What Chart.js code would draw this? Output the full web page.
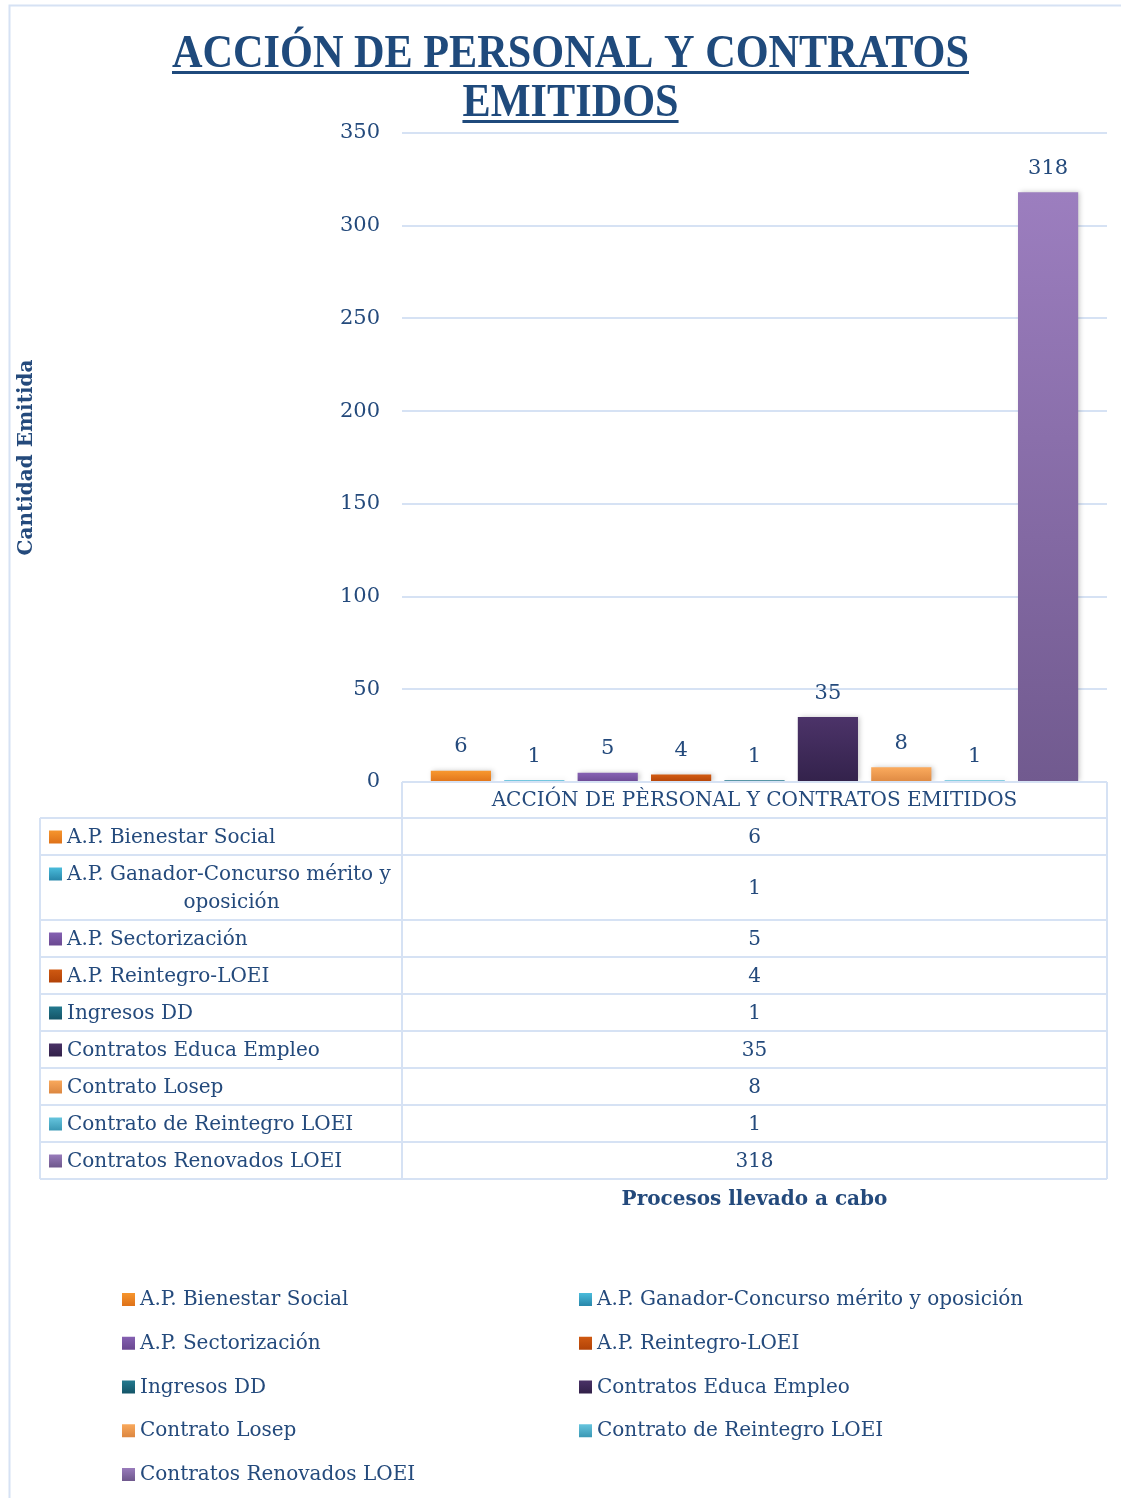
<!DOCTYPE html>
<html lang="es">
<head>
<meta charset="utf-8">
<title>Acción de personal y contratos emitidos</title>
<script src="https://cdn.jsdelivr.net/npm/chart.js@4.4.1/dist/chart.umd.min.js"></script>
<style>
  html, body { margin: 0; padding: 0; background: #fff; }
  canvas { display: block; }
</style>
</head>
<body>
<canvas id="grafico" width="1121" height="1498"></canvas>
<script>
/* ---- datos ---- */
const categorias = [
  'A.P. Bienestar Social',
  'A.P. Ganador-Concurso mérito y oposición',
  'A.P. Sectorización',
  'A.P. Reintegro-LOEI',
  'Ingresos DD',
  'Contratos Educa Empleo',
  'Contrato Losep',
  'Contrato de Reintegro LOEI',
  'Contratos Renovados LOEI'
];
const valores = [6, 1, 5, 4, 1, 35, 8, 1, 318];
const ticksY = [0, 50, 100, 150, 200, 250, 300, 350];
const serieNombre = 'ACCIÓN DE PÈRSONAL Y CONTRATOS EMITIDOS';
const tituloLineas = ['ACCIÓN DE PERSONAL Y CONTRATOS', 'EMITIDOS'];
const tituloEjeY = 'Cantidad Emitida';
const tituloEjeX = 'Procesos llevado a cabo';

// colores (arriba, abajo) de cada serie
const coloresArriba = ['#F8982F', '#4DC0DF', '#8762B4', '#D25B12', '#247C92', '#4C3369', '#FBAB5E', '#69C8E1', '#9C7EBF'];
const coloresAbajo  = ['#E0741A', '#2A8AAD', '#6C4A93', '#B44408', '#15576A', '#33224B', '#DE8942', '#3D9BB7', '#715A8F'];

/* ---- estilos ---- */
const AZUL = '#244A7C';
const BORDE = '#D6E2F4';
const FUENTE = '"DejaVu Serif", serif';
const TAM = 20;

function degradado(ctx, i, y0, y1) {
  const g = ctx.createLinearGradient(0, y0, 0, y1);
  g.addColorStop(0, coloresArriba[i]);
  g.addColorStop(1, coloresAbajo[i]);
  return g;
}

// fondo + marco exterior
const fondoPlugin = {
  id: 'fondo',
  beforeDraw(chart) {
    const ctx = chart.ctx;
    ctx.save();
    ctx.fillStyle = '#fff';
    ctx.fillRect(0, 0, chart.width, chart.height);
    ctx.strokeStyle = BORDE;
    ctx.lineWidth = 2;
    ctx.beginPath();
    ctx.moveTo(9.5, chart.height);
    ctx.lineTo(9.5, 5.5);
    ctx.lineTo(chart.width, 5.5);
    ctx.stroke();
    ctx.restore();
  }
};

// título subrayado
const tituloPlugin = {
  id: 'tituloSub',
  afterDraw(chart) {
    const ctx = chart.ctx;
    ctx.save();
    ctx.font = 'bold 47px "Liberation Serif", serif';
    ctx.fillStyle = '#1F4A7C';
    ctx.textAlign = 'center';
    ctx.textBaseline = 'alphabetic';
    const ancho0 = ctx.measureText(tituloLineas[0]).width;
    const sx = 797 / ancho0;
    const cx = 570.5;
    const bases = [67, 116];
    tituloLineas.forEach((t, k) => {
      const w = ctx.measureText(t).width * sx;
      ctx.save();
      ctx.translate(cx, bases[k]);
      ctx.scale(sx, 1);
      ctx.fillText(t, 0, 0);
      ctx.restore();
      ctx.fillRect(cx - w / 2, bases[k] + 4, w, 3);
    });
    ctx.restore();
  }
};

// sombra de las barras
const sombraPlugin = {
  id: 'sombra',
  beforeDatasetsDraw(chart) {
    const ctx = chart.ctx;
    ctx.save();
    ctx.shadowColor = 'rgba(0,0,0,0.22)';
    ctx.shadowBlur = 5;
    ctx.shadowOffsetX = 2;
    ctx.shadowOffsetY = 0;
  },
  afterDatasetsDraw(chart) {
    chart.ctx.restore();
  }
};

// etiquetas de valor encima de cada barra
const etiquetasPlugin = {
  id: 'etiquetas',
  afterDatasetsDraw(chart) {
    const ctx = chart.ctx;
    ctx.save();
    ctx.font = `${TAM + 1}px ${FUENTE}`;
    ctx.fillStyle = AZUL;
    ctx.textAlign = 'center';
    ctx.textBaseline = 'middle';
    chart.data.datasets.forEach((ds, i) => {
      const bar = chart.getDatasetMeta(i).data[0];
      ctx.fillText(String(ds.data[0]), bar.x, bar.y - 24);
    });
    ctx.restore();
  }
};

function partirTexto(ctx, texto, max) {
  const palabras = texto.split(' ');
  const lineas = [];
  let actual = '';
  palabras.forEach(p => {
    const prueba = actual ? actual + ' ' + p : p;
    if (ctx.measureText(prueba).width > max && actual) {
      lineas.push(actual);
      actual = p;
    } else {
      actual = prueba;
    }
  });
  if (actual) lineas.push(actual);
  return lineas;
}

// tabla de datos, título del eje X y leyenda
const tablaPlugin = {
  id: 'tabla',
  afterDraw(chart) {
    const ctx = chart.ctx;
    const area = chart.chartArea;
    const izq = 40, col = area.left, der = area.right;
    const top = area.bottom;
    const altoCab = 36, altoFila = 37, altoLinea = 28;

    ctx.save();
    ctx.font = `${TAM}px ${FUENTE}`;
    ctx.textBaseline = 'middle';

    // alturas de filas
    const filas = categorias.map(c => partirTexto(ctx, c, col - 67 - 6));
    let y = top + altoCab;
    const posiciones = filas.map(l => {
      const h = altoFila + (l.length - 1) * altoLinea;
      const p = { y0: y, y1: y + h };
      y += h;
      return p;
    });
    const fondo = y;

    // bordes
    ctx.strokeStyle = BORDE;
    ctx.lineWidth = 2;
    ctx.beginPath();
    ctx.moveTo(col, top); ctx.lineTo(der, top);
    ctx.moveTo(col, top); ctx.lineTo(col, fondo);
    ctx.moveTo(der, top); ctx.lineTo(der, fondo);
    ctx.moveTo(izq, top + altoCab); ctx.lineTo(izq, fondo);
    ctx.moveTo(izq, top + altoCab); ctx.lineTo(der, top + altoCab);
    posiciones.forEach(p => { ctx.moveTo(izq, p.y1); ctx.lineTo(der, p.y1); });
    ctx.stroke();

    // cabecera
    ctx.fillStyle = AZUL;
    ctx.textAlign = 'center';
    ctx.fillText(serieNombre, (col + der) / 2, top + altoCab / 2 + 1);

    // filas
    filas.forEach((lineas, i) => {
      const p = posiciones[i];
      const yc = (p.y0 + p.y1) / 2;
      const y0 = yc - (lineas.length - 1) * altoLinea / 2;
      ctx.fillStyle = degradado(ctx, i, y0 - 7, y0 + 6);
      ctx.fillRect(49, y0 - 6, 13, 13);
      ctx.fillStyle = AZUL;
      lineas.forEach((t, k) => {
        if (k === 0) {
          ctx.textAlign = 'left';
          ctx.fillText(t, 67, y0 + 1);
        } else {
          ctx.textAlign = 'center';
          ctx.fillText(t, (61 + col) / 2, y0 + k * altoLinea + 1);
        }
      });
      ctx.textAlign = 'center';
      ctx.fillText(String(valores[i]), (col + der) / 2, yc + 1);
    });

    // título eje X
    ctx.font = `bold ${TAM}px ${FUENTE}`;
    ctx.textAlign = 'center';
    ctx.fillText(tituloEjeX, (col + der) / 2, fondo + 21);

    // leyenda en dos columnas
    ctx.font = `${TAM}px ${FUENTE}`;
    ctx.textAlign = 'left';
    const colX = [122, 579];
    categorias.forEach((c, i) => {
      const fila = Math.floor(i / 2);
      const x = colX[i % 2];
      const yc = 1299 + fila * 43.75;
      ctx.fillStyle = degradado(ctx, i, yc - 7, yc + 6);
      ctx.fillRect(x, yc - 6, 13, 13);
      ctx.fillStyle = AZUL;
      ctx.fillText(c, x + 18, yc + 1);
    });
    ctx.restore();
  }
};

new Chart(document.getElementById('grafico'), {
  type: 'bar',
  data: {
    labels: [serieNombre],
    datasets: categorias.map((c, i) => ({
      label: c,
      data: [valores[i]],
      backgroundColor: ctx => {
        const chart = ctx.chart;
        if (!chart.chartArea) return coloresArriba[i];
        const y = chart.scales.y;
        return degradado(chart.ctx, i, y.getPixelForValue(valores[i]), y.getPixelForValue(0));
      },
      borderWidth: 0,
      categoryPercentage: 0.937,
      barPercentage: 0.82
    }))
  },
  options: {
    responsive: false,
    animation: false,
    devicePixelRatio: 1,
    layout: { padding: { left: 0, top: 133, right: 14, bottom: 716 } },
    plugins: {
      legend: { display: false },
      title: { display: false },
      tooltip: { enabled: false }
    },
    scales: {
      x: { display: false },
      y: {
        min: ticksY[0],
        max: ticksY[ticksY.length - 1],
        afterFit(scale) { scale.width = 402; },
        afterBuildTicks(scale) { scale.ticks = ticksY.map(v => ({ value: v })); },
        border: { display: false },
        grid: { color: BORDE, lineWidth: 2, drawTicks: false },
        ticks: { color: AZUL, font: { family: FUENTE, size: TAM + 1 }, padding: 22 },
        title: {
          display: true,
          text: tituloEjeY,
          color: AZUL,
          font: { family: FUENTE, size: TAM, weight: 'bold' },
          padding: { top: 15, bottom: 0 }
        }
      }
    }
  },
  plugins: [fondoPlugin, sombraPlugin, etiquetasPlugin, tablaPlugin, tituloPlugin]
});
</script>
</body>
</html>
